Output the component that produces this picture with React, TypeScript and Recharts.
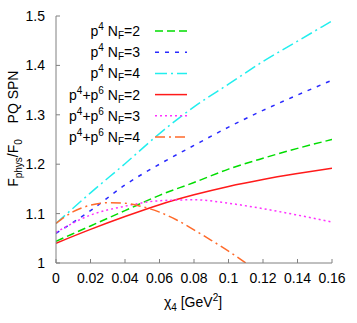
import { Label, Legend, Line, LineChart, XAxis, YAxis } from "recharts";

const X_TICKS = [0, 0.02, 0.04, 0.06, 0.08, 0.1, 0.12, 0.14, 0.16];
const Y_TICKS = [1, 1.1, 1.2, 1.3, 1.4, 1.5];

// chi_4 sample points (GeV^2)
const chiGrid = [0, 0.02, 0.04, 0.06, 0.08, 0.1, 0.12, 0.14, 0.16];
const chiFine = [0, 0.01, 0.02, 0.03, 0.04, 0.05, 0.06, 0.07, 0.08, 0.09, 0.1, 0.11];

// F_phys / F_0
const p4Nf2 = [1.044, 1.075, 1.106, 1.137, 1.163, 1.19, 1.212, 1.232, 1.25];
const p4Nf3 = [1.06, 1.106, 1.158, 1.2, 1.238, 1.275, 1.309, 1.34, 1.37];
const p4Nf4 = [1.08, 1.142, 1.201, 1.262, 1.316, 1.362, 1.408, 1.449, 1.49];
const p6Nf2 = [1.04, 1.068, 1.094, 1.118, 1.138, 1.155, 1.169, 1.181, 1.192];
const p6Nf3 = [1.062, 1.097, 1.115, 1.126, 1.128, 1.121, 1.11, 1.097, 1.083];
const p6Nf4 = [1.08, 1.104, 1.117, 1.122, 1.121, 1.114, 1.103, 1.087, 1.067, 1.046, 1.024, 1.0];

const FONT = '"Liberation Sans", Arial, sans-serif';
const AXIS_GREY = "#808080";

interface Series {
  key: string;
  order: "p4" | "p4+p6";
  nf: number;
  xs: number[];
  ys: number[];
  color: string;
  dash?: string;
}

const SERIES: Series[] = [
  { key: "p4-2", order: "p4", nf: 2, xs: chiGrid, ys: p4Nf2, color: "#00dd00", dash: "8 4" },
  { key: "p4-3", order: "p4", nf: 3, xs: chiGrid, ys: p4Nf3, color: "#2a2aff", dash: "4 6" },
  { key: "p4-4", order: "p4", nf: 4, xs: chiGrid, ys: p4Nf4, color: "#22eeee", dash: "12 4 2 4" },
  { key: "p6-2", order: "p4+p6", nf: 2, xs: chiGrid, ys: p6Nf2, color: "#ff1a1a" },
  { key: "p6-3", order: "p4+p6", nf: 3, xs: chiGrid, ys: p6Nf3, color: "#ff30ff", dash: "2 3" },
  { key: "p6-4", order: "p4+p6", nf: 4, xs: chiFine, ys: p6Nf4, color: "#ff6a2a", dash: "10 4 2 4" },
];

function toPoints(xs: number[], ys: number[]) {
  return xs.map((x, i) => ({ x, y: ys[i] }));
}

function seriesName(s: Series) {
  return `${s.order} NF=${s.nf}`;
}

function OrderLabel({ order, nf }: { order: Series["order"]; nf: number }) {
  return (
    <>
      p<tspan dy={-6} fontSize={10}>4</tspan>
      {order === "p4+p6" ? (
        <>
          <tspan dy={6}>+p</tspan>
          <tspan dy={-6} fontSize={10}>6</tspan>
        </>
      ) : null}
      <tspan dy={6}> N</tspan>
      <tspan dy={3} fontSize={10}>F</tspan>
      <tspan dy={-3}>={nf}</tspan>
    </>
  );
}

function LegendBox() {
  return (
    <svg width={200} height={150} style={{ display: "block" }}>
      {SERIES.map((s, i) => {
        const y = 31 + i * 21.2;
        return (
          <g key={s.key}>
            <text x={140} y={y + 5} textAnchor="end" fontSize={14} fontFamily={FONT} fill="#000">
              <OrderLabel order={s.order} nf={s.nf} />
            </text>
            <line
              x1={155}
              x2={187}
              y1={y}
              y2={y}
              stroke={s.color}
              strokeWidth={1.5}
              strokeDasharray={s.dash}
            />
          </g>
        );
      })}
    </svg>
  );
}

function YTitle({ viewBox }: any) {
  const x = viewBox.x + 18;
  const yRatio = viewBox.y + 147;
  const ySpn = viewBox.y + 81;
  return (
    <g fontFamily={FONT} fontSize={14} fill="#000">
      <text x={x} y={yRatio} textAnchor="middle" transform={`rotate(-90, ${x}, ${yRatio})`}>
        F<tspan dy={4} fontSize={10}>phys</tspan>
        <tspan dy={-4}>/F</tspan>
        <tspan dy={4} fontSize={10}>0</tspan>
      </text>
      <text x={x} y={ySpn} textAnchor="middle" transform={`rotate(-90, ${x}, ${ySpn})`}>
        PQ SPN
      </text>
    </g>
  );
}

function XTitle({ viewBox }: any) {
  const x = viewBox.x + viewBox.width / 2 - 1;
  const y = viewBox.y + 44;
  return (
    <text x={x} y={y} textAnchor="middle" fontFamily={FONT} fontSize={14} fill="#000">
      χ<tspan dy={4} fontSize={10}>4</tspan>
      <tspan dy={-4}> [GeV</tspan>
      <tspan dy={-6} fontSize={10}>2</tspan>
      <tspan dy={6}>]</tspan>
    </text>
  );
}

const tickStyle = { fill: "#000", fontSize: 14, fontFamily: FONT };

export default function App() {
  return (
    <div style={{ position: "absolute", left: 0, top: 0, background: "#fff" }}>
      <LineChart width={357} height={323} margin={{ top: 16, right: 25, bottom: 0, left: 0 }}>
        <XAxis
          dataKey="x"
          type="number"
          domain={[0, 0.16]}
          ticks={X_TICKS}
          tickFormatter={(v: number) => String(v)}
          allowDataOverflow
          height={60}
          tickSize={-4}
          tickMargin={14}
          tick={tickStyle}
          axisLine={{ stroke: AXIS_GREY }}
          tickLine={{ stroke: AXIS_GREY }}
        >
          <Label content={XTitle} />
        </XAxis>
        <XAxis
          xAxisId="top"
          orientation="top"
          type="number"
          domain={[0, 0.16]}
          ticks={X_TICKS}
          height={0}
          tickSize={-4}
          tick={false}
          axisLine={{ stroke: AXIS_GREY }}
          tickLine={{ stroke: AXIS_GREY }}
        />
        <YAxis
          type="number"
          domain={[1, 1.5]}
          ticks={Y_TICKS}
          tickFormatter={(v: number) => String(v)}
          allowDataOverflow
          width={56}
          tickSize={-4}
          tickMargin={15}
          tick={tickStyle}
          axisLine={{ stroke: AXIS_GREY }}
          tickLine={{ stroke: AXIS_GREY }}
        >
          <Label content={YTitle} />
        </YAxis>
        <YAxis
          yAxisId="right"
          orientation="right"
          type="number"
          domain={[1, 1.5]}
          ticks={Y_TICKS}
          width={0}
          tickSize={-4}
          tick={false}
          axisLine={{ stroke: AXIS_GREY }}
          tickLine={{ stroke: AXIS_GREY }}
        />
        <Legend
          layout="horizontal"
          verticalAlign="middle"
          align="center"
          content={LegendBox}
          wrapperStyle={{ left: 0, top: 0, width: 200, height: 150 }}
        />
        {SERIES.map((s) => (
          <Line
            key={s.key}
            name={seriesName(s)}
            data={toPoints(s.xs, s.ys)}
            dataKey="y"
            type="monotone"
            stroke={s.color}
            strokeWidth={1.5}
            strokeDasharray={s.dash}
            dot={false}
            activeDot={false}
            isAnimationActive={false}
          />
        ))}
      </LineChart>
    </div>
  );
}
